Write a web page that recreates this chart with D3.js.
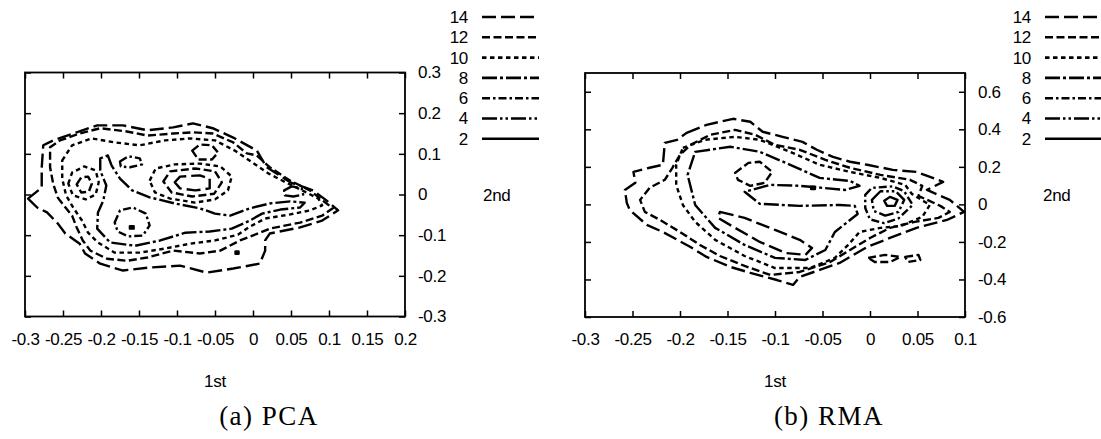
<!DOCTYPE html>
<html>
<head>
<meta charset="utf-8">
<script src="https://cdn.jsdelivr.net/npm/d3@7"></script>
<style>
  body { margin: 0; background: #fff; }
  svg text { font-family: "Liberation Sans", Arial, Helvetica, sans-serif; font-size: 17px; letter-spacing: -0.3px; fill: #000; }
  svg text.caption { font-family: "Liberation Serif", "Times New Roman", serif; font-size: 27px; letter-spacing: 1.5px; }
</style>
</head>
<body>
<svg id="fig" width="1101" height="439"></svg>
<script>
// contour levels listed in the key (top to bottom)
var levels = [14, 12, 10, 8, 6, 4, 2];

// (a) PCA – axis ticks
var pcaXTicks = [-0.3, -0.25, -0.2, -0.15, -0.1, -0.05, 0, 0.05, 0.1, 0.15, 0.2];
var pcaXLabels = ["-0.3", "-0.25", "-0.2", "-0.15", "-0.1", "-0.05", "0", "0.05", "0.1", "0.15", "0.2"];
var pcaYTicks = [0.3, 0.2, 0.1, 0, -0.1, -0.2, -0.3];
var pcaYLabels = ["0.3", "0.2", "0.1", "0", "-0.1", "-0.2", "-0.3"];

// (a) PCA – contour rings [1st, 2nd], one array per level
var pca14 = [
  [[-0.296,-0.010],[-0.284,-0.032],[-0.271,-0.044],[-0.257,-0.071],[-0.247,-0.096],[-0.228,-0.121],[-0.221,-0.145],[-0.201,-0.170],[-0.171,-0.187],[-0.139,-0.180],[-0.096,-0.175],[-0.061,-0.192],[-0.026,-0.182],[0.009,-0.170],[0.016,-0.138],[0.016,-0.113],[0.022,-0.096],[0.062,-0.081],[0.091,-0.064],[0.112,-0.039],[0.097,-0.015],[0.079,0.010],[0.049,0.030],[0.018,0.067],[0.005,0.108],[-0.026,0.140],[-0.053,0.163],[-0.079,0.175],[-0.105,0.165],[-0.139,0.158],[-0.171,0.170],[-0.205,0.170],[-0.232,0.153],[-0.263,0.133],[-0.276,0.121],[-0.278,0.066],[-0.278,0.017]],
  [[-0.103,0.030],[-0.096,0.044],[-0.070,0.047],[-0.057,0.039],[-0.057,0.015],[-0.076,0.010],[-0.096,0.015]]
];
var pca12 = [
  [[-0.257,-0.007],[-0.254,-0.015],[-0.238,-0.052],[-0.232,-0.081],[-0.224,-0.113],[-0.214,-0.138],[-0.192,-0.158],[-0.166,-0.163],[-0.139,-0.155],[-0.105,-0.138],[-0.070,-0.145],[-0.043,-0.138],[-0.017,-0.113],[0.009,-0.094],[0.022,-0.084],[0.062,-0.069],[0.091,-0.052],[0.105,-0.034],[0.092,-0.015],[0.075,0.010],[0.049,0.034],[0.022,0.067],[0.005,0.096],[-0.008,0.101],[-0.026,0.128],[-0.053,0.150],[-0.079,0.153],[-0.105,0.150],[-0.139,0.145],[-0.166,0.155],[-0.201,0.163],[-0.228,0.150],[-0.254,0.133],[-0.267,0.116],[-0.267,0.067],[-0.263,0.027]],
  [[-0.118,0.032],[-0.109,0.057],[-0.076,0.064],[-0.050,0.057],[-0.041,0.030],[-0.051,0.002],[-0.080,-0.005],[-0.107,0.005]],
  [[-0.232,0.025],[-0.226,0.042],[-0.217,0.044],[-0.212,0.027],[-0.216,0.007],[-0.226,0.005]],
  [[-0.080,0.108],[-0.070,0.123],[-0.054,0.121],[-0.046,0.103],[-0.054,0.086],[-0.072,0.086]]
];
var pca10 = [
  [[-0.251,0.084],[-0.238,0.121],[-0.212,0.138],[-0.182,0.128],[-0.149,0.121],[-0.116,0.133],[-0.083,0.138],[-0.050,0.133],[-0.024,0.108],[-0.001,0.079],[0.020,0.052],[0.046,0.027],[0.068,0.007],[0.086,-0.010],[0.091,-0.027],[0.075,-0.039],[0.049,-0.049],[0.016,-0.059],[-0.004,-0.079],[-0.020,-0.099],[-0.050,-0.113],[-0.083,-0.121],[-0.116,-0.133],[-0.149,-0.143],[-0.182,-0.143],[-0.204,-0.118],[-0.217,-0.094],[-0.225,-0.064],[-0.236,-0.034],[-0.246,-0.002],[-0.251,0.039]],
  [[-0.136,0.034],[-0.128,0.064],[-0.103,0.074],[-0.070,0.076],[-0.043,0.069],[-0.028,0.044],[-0.033,0.010],[-0.050,-0.012],[-0.076,-0.020],[-0.109,-0.010],[-0.129,0.005]],
  [[-0.243,0.027],[-0.238,0.054],[-0.222,0.069],[-0.207,0.059],[-0.203,0.030],[-0.207,0.000],[-0.220,-0.012],[-0.237,-0.002]]
];
var pca8 = [
  [[-0.191,0.096],[-0.186,0.071],[-0.175,0.039],[-0.159,0.010],[-0.136,-0.007],[-0.103,-0.022],[-0.070,-0.034],[-0.050,-0.047],[-0.030,-0.052],[-0.004,-0.034],[0.022,-0.022],[0.049,-0.017],[0.068,-0.020],[0.062,-0.032],[0.036,-0.037],[0.012,-0.047],[-0.004,-0.064],[-0.028,-0.084],[-0.057,-0.091],[-0.089,-0.094],[-0.122,-0.113],[-0.155,-0.126],[-0.188,-0.118],[-0.205,-0.084],[-0.204,-0.044],[-0.197,-0.015],[-0.193,0.022],[-0.201,0.059],[-0.201,0.089]]
];
var pca6 = [
  [[-0.182,-0.069],[-0.175,-0.039],[-0.158,-0.032],[-0.141,-0.047],[-0.136,-0.076],[-0.145,-0.101],[-0.164,-0.103],[-0.178,-0.091]],
  [[-0.175,0.081],[-0.164,0.094],[-0.149,0.089],[-0.146,0.074],[-0.162,0.067],[-0.174,0.069]]
];
var pca4 = [
  [[0.041,0.010],[0.051,0.020],[0.064,0.015],[0.066,0.000],[0.053,-0.005],[0.042,-0.002]]
];
var pca2 = [
  [[-0.162,-0.078],[-0.157,-0.078],[-0.157,-0.084],[-0.162,-0.084]],
  [[-0.023,-0.140],[-0.019,-0.140],[-0.019,-0.146],[-0.023,-0.146]]
];

// (b) RMA – axis ticks
var rmaXTicks = [-0.3, -0.25, -0.2, -0.15, -0.1, -0.05, 0, 0.05, 0.1];
var rmaXLabels = ["-0.3", "-0.25", "-0.2", "-0.15", "-0.1", "-0.05", "0", "0.05", "0.1"];
var rmaYTicks = [0.6, 0.4, 0.2, 0, -0.2, -0.4, -0.6];
var rmaYLabels = ["0.6", "0.4", "0.2", "0", "-0.2", "-0.4", "-0.6"];

// (b) RMA – contour rings
var rma14 = [
  [[-0.193,0.381],[-0.172,0.424],[-0.144,0.456],[-0.126,0.440],[-0.113,0.387],[-0.092,0.360],[-0.071,0.333],[-0.056,0.291],[-0.039,0.253],[-0.021,0.227],[-0.003,0.211],[0.024,0.184],[0.049,0.173],[0.077,0.120],[0.060,0.077],[0.084,0.024],[0.099,-0.040],[0.081,-0.083],[0.049,-0.125],[0.021,-0.179],[-0.003,-0.227],[-0.032,-0.312],[-0.053,-0.349],[-0.074,-0.387],[-0.081,-0.429],[-0.098,-0.403],[-0.126,-0.365],[-0.147,-0.333],[-0.172,-0.280],[-0.189,-0.227],[-0.218,-0.147],[-0.235,-0.109],[-0.253,-0.029],[-0.256,0.008],[-0.258,0.077],[-0.247,0.115],[-0.249,0.173],[-0.232,0.195],[-0.218,0.211],[-0.216,0.328],[-0.203,0.344]],
  [[-0.158,-0.040],[-0.132,-0.072],[-0.100,-0.136],[-0.074,-0.189],[-0.061,-0.232],[-0.068,-0.269],[-0.089,-0.259],[-0.116,-0.200],[-0.142,-0.125],[-0.160,-0.072]]
];
var rma12 = [
  [[-0.189,0.317],[-0.168,0.371],[-0.142,0.397],[-0.121,0.371],[-0.100,0.317],[-0.074,0.291],[-0.047,0.237],[-0.021,0.195],[0.011,0.157],[0.042,0.131],[0.055,0.099],[0.051,0.045],[0.074,-0.008],[0.084,-0.040],[0.072,-0.072],[0.047,-0.093],[0.021,-0.125],[0.000,-0.179],[-0.021,-0.243],[-0.042,-0.307],[-0.074,-0.360],[-0.105,-0.376],[-0.132,-0.328],[-0.158,-0.275],[-0.179,-0.216],[-0.200,-0.147],[-0.221,-0.083],[-0.237,-0.040],[-0.242,0.024],[-0.232,0.088],[-0.216,0.131],[-0.208,0.195],[-0.200,0.264]],
  [[-0.142,0.168],[-0.128,0.221],[-0.116,0.227],[-0.103,0.173],[-0.111,0.115],[-0.126,0.099],[-0.139,0.131]],
  [[-0.002,-0.285],[0.016,-0.269],[0.032,-0.280],[0.021,-0.307],[0.005,-0.307]],
  [[0.037,-0.280],[0.051,-0.269],[0.053,-0.296],[0.040,-0.307]]
];
var rma10 = [
  [[-0.197,0.301],[-0.174,0.344],[-0.142,0.360],[-0.116,0.344],[-0.084,0.280],[-0.053,0.211],[-0.021,0.173],[0.011,0.141],[0.037,0.104],[0.044,0.056],[0.063,-0.003],[0.055,-0.067],[0.032,-0.115],[0.011,-0.125],[-0.011,-0.147],[-0.023,-0.216],[-0.037,-0.285],[-0.063,-0.339],[-0.100,-0.339],[-0.132,-0.275],[-0.163,-0.189],[-0.184,-0.093],[-0.197,-0.003],[-0.204,0.104],[-0.204,0.211]]
];
var rma8 = [
  [[-0.184,0.280],[-0.147,0.307],[-0.116,0.280],[-0.084,0.211],[-0.053,0.141],[-0.021,0.125],[-0.011,0.099],[-0.026,0.077],[-0.074,0.099],[-0.105,0.104],[-0.132,0.067],[-0.116,0.003],[-0.074,-0.008],[-0.032,-0.003],[-0.016,-0.008],[-0.013,-0.051],[-0.021,-0.083],[-0.037,-0.147],[-0.047,-0.243],[-0.068,-0.296],[-0.100,-0.285],[-0.132,-0.216],[-0.163,-0.125],[-0.184,-0.003],[-0.192,0.157]]
];
var rma6 = [
  [[-0.005,0.051],[0.002,0.088],[0.024,0.096],[0.036,0.070],[0.045,-0.003],[0.030,-0.075],[0.015,-0.100],[0.000,-0.080],[-0.005,-0.019]]
];
var rma4 = [
  [[0.002,0.024],[0.011,0.070],[0.027,0.070],[0.036,0.024],[0.030,-0.040],[0.016,-0.060],[0.004,-0.035]]
];
var rma2 = [
  [[0.015,0.019],[0.021,0.040],[0.029,0.024],[0.026,-0.008],[0.018,-0.008]],
  [[-0.062,0.094],[-0.058,0.094],[-0.058,0.082],[-0.062,0.082]]
];

// gnuplot-like dash styles per level
var dashes = {14: "14,5", 12: "8,3.5", 10: "4.5,3.5", 8: "15,3,3,3", 6: "8,3,2.5,3", 4: "15,3,2.5,3,2.5,3", 2: null};

var svg = d3.select("#fig");

function cleanAxis(a) {
  a.select(".domain").remove();
  a.attr("font-family", null).attr("font-size", null);
  a.selectAll(".tick line").attr("stroke-width", 1.5);
}

function drawPanel(p) {
  var x = d3.scaleLinear().domain(p.xDomain).range([p.left, p.right]);
  var y = d3.scaleLinear().domain(p.yDomain).range([p.bottom, p.top]);
  var g = svg.append("g");

  var line = d3.line()
    .x(function(d) { return x(d[0]); })
    .y(function(d) { return y(d[1]); })
    .curve(d3.curveLinearClosed);

  p.contours.forEach(function(c) {
    g.append("g").selectAll("path").data(c.rings).enter().append("path")
      .attr("d", line)
      .attr("fill", "none")
      .attr("stroke", "#000")
      .attr("stroke-width", 2.4)
      .attr("stroke-linejoin", "round")
      .attr("stroke-dasharray", dashes[c.level]);
  });

  g.append("g").attr("transform", "translate(0," + p.bottom + ")")
    .call(d3.axisBottom(x).tickValues(p.xTicks)
      .tickFormat(function(d, i) { return p.xLabels[i]; })
      .tickSize(-6).tickPadding(16))
    .call(cleanAxis);
  g.append("g").attr("transform", "translate(0," + p.top + ")")
    .call(d3.axisTop(x).tickValues(p.xTicks).tickFormat(function() { return ""; }).tickSize(-6))
    .call(cleanAxis);
  g.append("g").attr("transform", "translate(" + p.left + ",0)")
    .call(d3.axisLeft(y).tickValues(p.yTicks).tickFormat(function() { return ""; }).tickSize(-6))
    .call(cleanAxis);
  g.append("g").attr("transform", "translate(" + p.right + ",0)")
    .call(d3.axisRight(y).tickValues(p.yTicks)
      .tickFormat(function(d, i) { return p.yLabels[i]; })
      .tickSize(-6).tickPadding(13))
    .call(cleanAxis);

  g.append("rect")
    .attr("x", p.left).attr("y", p.top)
    .attr("width", p.right - p.left).attr("height", p.bottom - p.top)
    .attr("fill", "none").attr("stroke", "#000").attr("stroke-width", 1.8);

  // key
  var key = g.append("g");
  levels.forEach(function(lv, i) {
    var ky = p.keyTop + i * 20.3;
    key.append("text").attr("x", p.keyX).attr("y", ky).attr("dy", "0.35em")
      .attr("text-anchor", "end").text(lv);
    key.append("line").attr("x1", p.keyX + 14).attr("x2", p.keyX + 71)
      .attr("y1", ky).attr("y2", ky)
      .attr("stroke", "#000").attr("stroke-width", 2.6)
      .attr("stroke-dasharray", dashes[lv]);
  });

  g.append("text").attr("x", p.right + 78).attr("y", 195).attr("dy", "0.35em").text("2nd");
  g.append("text").attr("x", (p.left + p.right) / 2).attr("y", 381).attr("dy", "0.35em")
    .attr("text-anchor", "middle").text("1st");
  g.append("text").attr("class", "caption").attr("x", (p.left + p.right) / 2 + 54).attr("y", 425)
    .attr("text-anchor", "middle").text(p.caption);
}

drawPanel({
  left: 25, right: 405, top: 72.5, bottom: 316.5,
  xDomain: [-0.3, 0.2], yDomain: [-0.3, 0.3],
  xTicks: pcaXTicks, xLabels: pcaXLabels, yTicks: pcaYTicks, yLabels: pcaYLabels,
  contours: [
    {level: 14, rings: pca14}, {level: 12, rings: pca12}, {level: 10, rings: pca10},
    {level: 8, rings: pca8}, {level: 6, rings: pca6}, {level: 4, rings: pca4}, {level: 2, rings: pca2}
  ],
  keyX: 468, keyTop: 17,
  caption: "(a) PCA"
});

drawPanel({
  left: 585, right: 965, top: 73, bottom: 317,
  xDomain: [-0.3, 0.1], yDomain: [-0.6, 0.7],
  xTicks: rmaXTicks, xLabels: rmaXLabels, yTicks: rmaYTicks, yLabels: rmaYLabels,
  contours: [
    {level: 14, rings: rma14}, {level: 12, rings: rma12}, {level: 10, rings: rma10},
    {level: 8, rings: rma8}, {level: 6, rings: rma6}, {level: 4, rings: rma4}, {level: 2, rings: rma2}
  ],
  keyX: 1031, keyTop: 17,
  caption: "(b) RMA"
});
</script>
</body>
</html>
